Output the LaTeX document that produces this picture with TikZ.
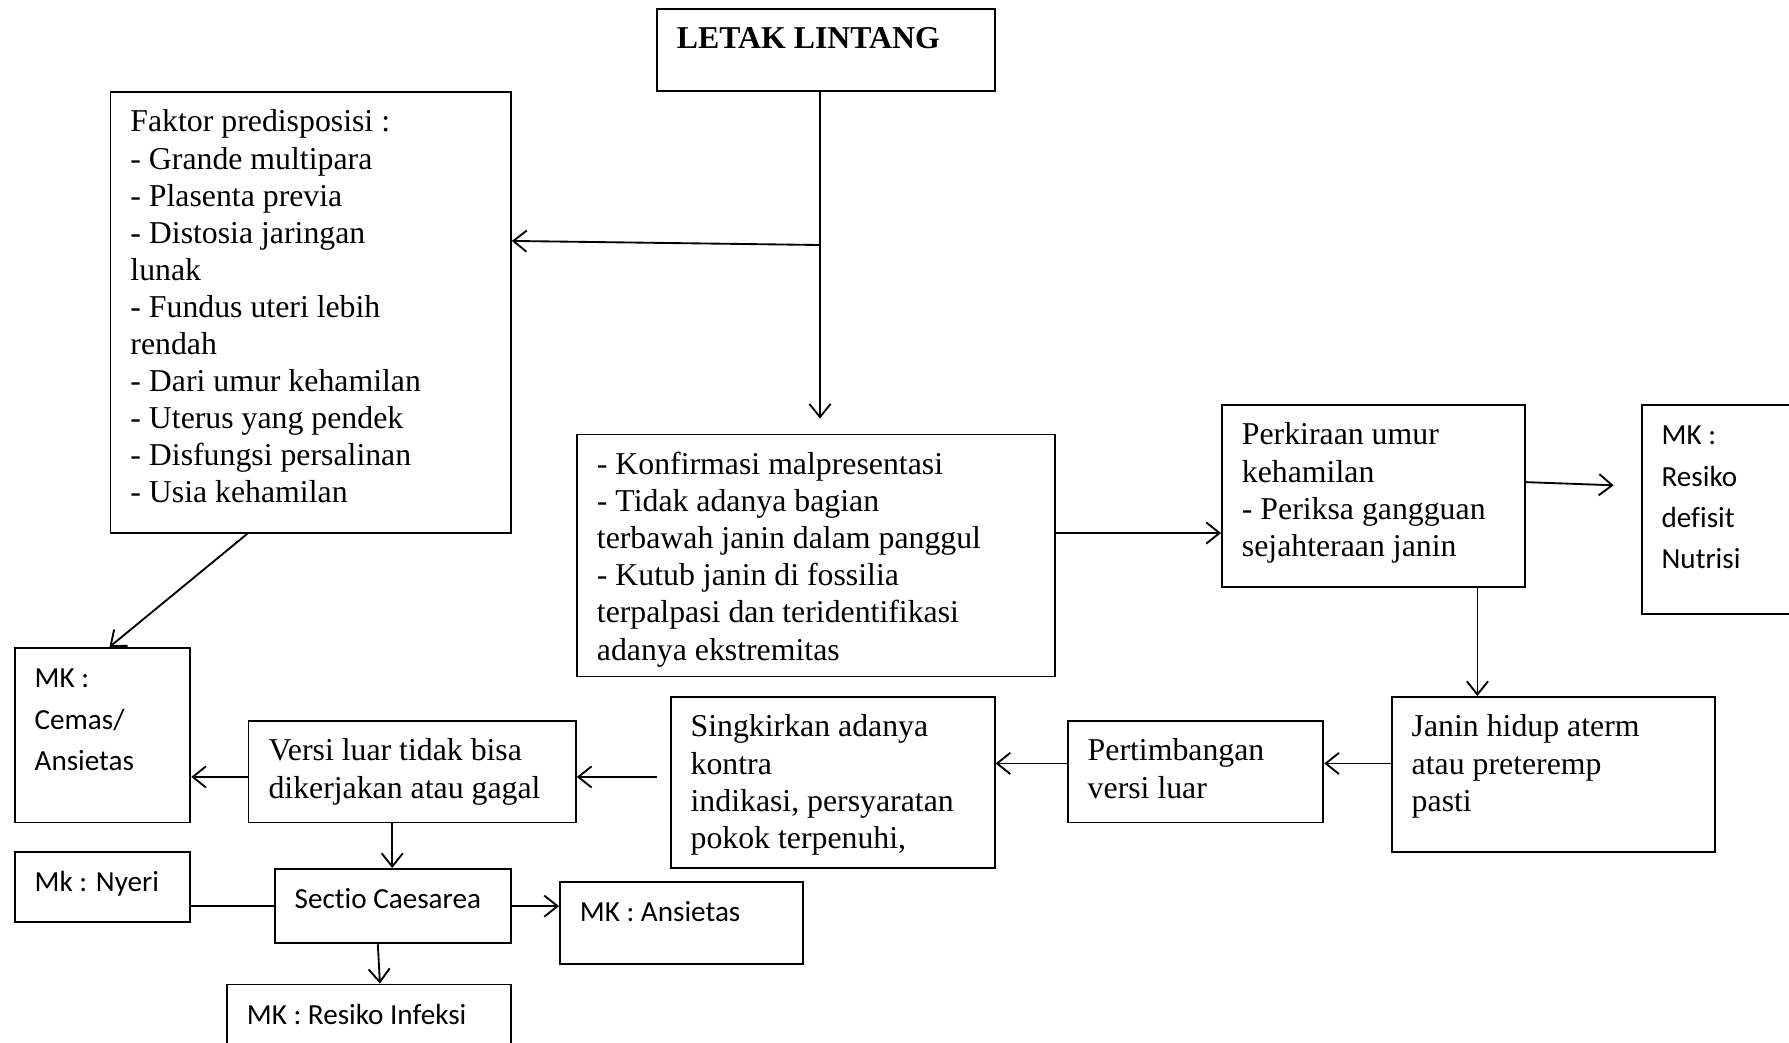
\documentclass[tikz,border=0pt]{standalone}
\usepackage{fontspec}
\setmainfont[Ligatures=NoCommon]{Liberation Serif}
\newfontfamily\calibri[Ligatures=NoCommon]{Carlito}
\usepackage{tikz}
\usetikzlibrary{arrows.meta,calc}

% one pixel of the original sheet
\newlength{\unitpx}
\setlength{\unitpx}{0.3774pt}
% box of a given outer size, text hung from the top
\newcommand{\boxtext}[3]{\parbox[c][#2\unitpx][t]{\dimexpr#1\unitpx-40\unitpx\relax}{\raggedright\rule{0pt}{40\unitpx}#3}}

\begin{document}
\begin{tikzpicture}[x=\unitpx, y=-\unitpx,
    tbox/.style={draw, line width=0.7pt, anchor=north west, inner xsep=20\unitpx, inner ysep=0pt,
        font=\fontsize{12}{14}\selectfont},
    cbox/.style={tbox, font=\calibri\fontsize{11}{15.5}\selectfont},
    arr/.style={line width=0.7pt, -{Straight Barb[length=5pt,width=8pt]}},
    link/.style={line width=0.7pt}]
    \clip (0,0) rectangle (1789,1042);

    % top part
    \node[tbox] (title) at (656,8) {\boxtext{338}{82}{\textbf{LETAK LINTANG}}};
    \node[tbox] (faktor) at (109.5,91) {\boxtext{400.5}{441}{Faktor predisposisi :\\
        - Grande multipara\\- Plasenta previa\\- Distosia jaringan\\lunak\\
        - Fundus uteri lebih\\rendah\\- Dari umur kehamilan\\- Uterus yang pendek\\
        - Disfungsi persalinan\\- Usia kehamilan}};
    \node[tbox] (konf) at (576,433.6) {\boxtext{478}{242}{- Konfirmasi malpresentasi\\
        - Tidak adanya bagian\\terbawah janin dalam panggul\\- Kutub janin di fossilia\\
        terpalpasi dan teridentifikasi\\adanya ekstremitas}};
    \node[tbox] (perk) at (1221,404) {\boxtext{303}{182.4}{Perkiraan umur\\kehamilan\\
        - Periksa gangguan\\sejahteraan janin}};
    \node[cbox] (nutri) at (1640.7,404) {\boxtext{180}{208.7}{MK :\\Resiko\\defisit\\Nutrisi}};

    % middle row
    \node[tbox] (janin) at (1390.8,696) {\boxtext{323}{155}{Janin hidup aterm\\atau preteremp\\pasti}};
    \node[tbox] (pert) at (1066.8,720) {\boxtext{255.6}{101.5}{Pertimbangan\\versi luar}};
    \node[tbox] (sing) at (669.7,696) {\boxtext{324}{171}{Singkirkan adanya\\kontra\\
        indikasi, persyaratan\\pokok terpenuhi,}};
    \node[tbox] (versi) at (247.6,720) {\boxtext{327.4}{101.5}{Versi luar tidak bisa\\dikerjakan atau gagal}};
    \node[cbox] (cemas) at (13.7,647) {\boxtext{175.7}{174.5}{MK :\\Cemas/\\Ansietas}};

    % bottom part
    \node[cbox] (nyeri) at (13.7,851) {\boxtext{175.7}{69.7}{Mk : Nyeri}};
    \node[cbox] (sectio) at (273.8,868) {\boxtext{236.2}{74.4}{Sectio Caesarea}};
    \node[cbox] (ansi) at (559,880.8) {\boxtext{243}{82.2}{MK : Ansietas}};
    \node[cbox] (infeksi) at (226,983.5) {\boxtext{284}{80}{MK : Resiko Infeksi}};

    % connectors
    \coordinate (split) at (820,245);
    \draw[link] (split |- title.south) -- (split);
    \draw[arr, shorten >=15\unitpx] (split) -- (split |- konf.north);
    \draw[arr] (split) -- ($(faktor.east)+(0,-71.5)$);
    \draw[arr] ($(faktor.south)+(-63.5,0)$) -- ($(cemas.north)+(7,0)$);
    \draw[arr] ($(konf.east)+(0,-22.5)$) coordinate (kp) -- (kp -| perk.west);
    \draw[arr] ($(perk.east)+(0,-14)$) -- ($(nutri.west)+(-27,-24)$);
    \draw[arr] ($(perk.south)+(104,0)$) coordinate (pj) -- (pj |- janin.north);
    \draw[arr] ($(janin.west)+(0,-11)$) coordinate (jp) -- (jp -| pert.east);
    \draw[arr] (jp -| pert.west) -- (jp -| sing.east);
    \draw[arr] ($(sing.west)+(-13,-5.5)$) coordinate (sv) -- (sv -| versi.east);
    \draw[arr] (sv -| versi.west) -- (sv -| cemas.east);
    \draw[arr] ($(versi.south)+(-20,0)$) coordinate (vs) -- (vs |- sectio.north);
    \draw[link] (sectio.west) -- (sectio.west -| nyeri.east);
    \draw[arr] (sectio.east) -- (sectio.east -| ansi.west);
    \draw[arr] ($(sectio.south)+(-15,0)$) -- ($(infeksi.north)+(11,0)$);
\end{tikzpicture}
\end{document}
